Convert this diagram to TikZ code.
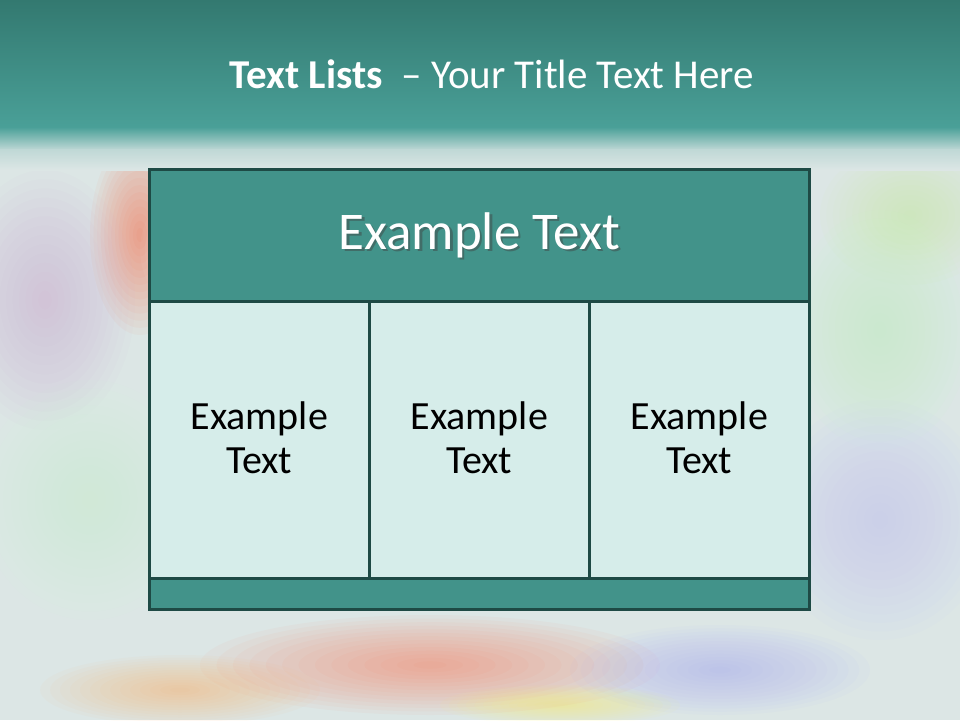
\documentclass[tikz,border=0pt]{standalone}
\usepackage{fontspec}
\setmainfont{Carlito}
\definecolor{bg}{HTML}{DCE6E5}
\definecolor{bandtop}{HTML}{337970}
\definecolor{bandbot}{HTML}{4AA098}
\definecolor{edge}{HTML}{1E4A45}
\definecolor{headfill}{HTML}{42938A}
\definecolor{cellfill}{HTML}{D6EDEA}
\tikzset{
  boxpart/.style={draw=edge, line width=2.6pt, inner sep=0pt},
  headbox/.style={boxpart, fill=headfill},
  cellbox/.style={boxpart, fill=cellfill},
  celltext/.style={font=\fontsize{40}{44}\selectfont, align=center, text=black},
  headtext/.style={font=\fontsize{53}{60}\selectfont, text=white},
}
\newcommand{\softblob}[4]{% center, rx, ry, colour
  \foreach \k in {1,...,14}{
    \fill[#4, fill opacity=0.045] #1 ellipse ({#2*\k/14} and {#3*\k/14});
  }
}
\begin{document}
\begin{tikzpicture}[x=1pt,y=-1pt]
\useasboundingbox (0,0) rectangle (960,720);
% background
\fill[bg] (0,0) rectangle (960,720);
\softblob{(140,235)}{50}{100}{red!60!orange!80}
\softblob{(45,300)}{90}{130}{violet!35}
\softblob{(210,250)}{70}{70}{white}
\softblob{(910,215)}{90}{70}{yellow!50!green!40}
\softblob{(880,330)}{90}{120}{green!25}
\softblob{(880,520)}{110}{120}{blue!25}
\softblob{(90,500)}{110}{120}{green!18}
\softblob{(430,665)}{230}{50}{red!60!orange!70}
\softblob{(720,670)}{150}{45}{blue!35}
\softblob{(180,690)}{140}{35}{orange!60}
\softblob{(560,705)}{120}{20}{yellow!60}
% title band
\shade[top color=bandtop, bottom color=bandbot] (0,0) rectangle (960,128);
\shade[top color=bandbot, bottom color=bg!80!bandbot] (0,127) rectangle (960,150);
\shade[top color=bg!80!bandbot, bottom color=bg] (0,149) rectangle (960,170);
\node[text=white, font=\fontsize{41}{48}\selectfont] (title) at (492,74)
  {\textbf{Text Lists}\ \ – Your Title Text Here};
% table
\node[headbox, minimum width=660pt, minimum height=132pt, anchor=north west] (head) at (148,168) {};
\node[headtext, text=black!75, opacity=0.45] (headshadow) at ([xshift=2.5pt,yshift=-2.5pt]head.center) {Example Text};
\node[headtext] (headlabel) at (head.center) {Example Text};
\node[cellbox, minimum width=220pt, minimum height=277pt, anchor=north west] (c1) at (148,300) {};
\node[cellbox, minimum width=220pt, minimum height=277pt, anchor=north west] (c2) at (368,300) {};
\node[cellbox, minimum width=220pt, minimum height=277pt, anchor=north west] (c3) at (588,300) {};
\node[celltext] (t1) at ([yshift=2pt]c1.center) {Example\\Text};
\node[celltext] (t2) at ([yshift=2pt]c2.center) {Example\\Text};
\node[celltext] (t3) at ([yshift=2pt]c3.center) {Example\\Text};
\node[headbox, minimum width=660pt, minimum height=31pt, anchor=north west] (foot) at (148,577) {};
\end{tikzpicture}
\end{document}
